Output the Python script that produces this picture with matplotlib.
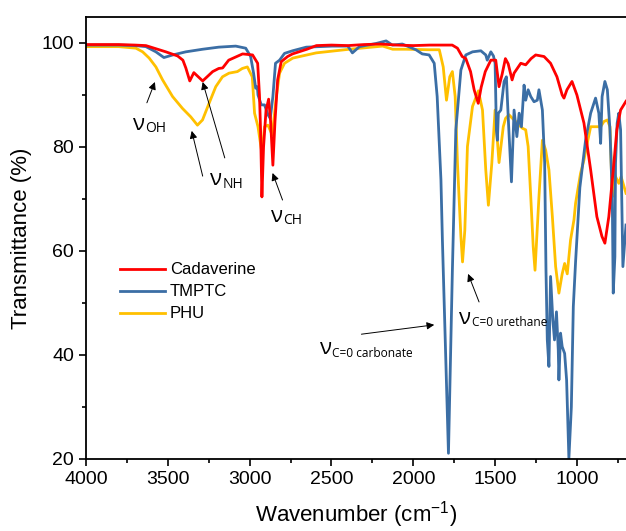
#-*- coding: utf-8 -*-

import numpy as np
import matplotlib
matplotlib.use('Agg')
import matplotlib.pyplot as plt
from matplotlib.ticker import MultipleLocator

# Cadaverine
wn_cad = [4000, 3800, 3700, 3634, 3512, 3440, 3408, 3390, 3366, 3341, 3287, 3226,
          3189, 3165, 3128, 3043, 2982, 2951, 2940, 2933, 2925, 2915, 2900, 2884,
          2872, 2858, 2845, 2829, 2807, 2768, 2738, 2650, 2592, 2500, 2400, 2300,
          2200, 2100, 2000, 1900, 1762, 1730, 1701, 1679, 1650, 1628, 1603, 1585,
          1560, 1526, 1496, 1476, 1457, 1437, 1420, 1396, 1384, 1343, 1313, 1280,
          1252, 1201, 1161, 1122, 1090, 1079, 1061, 1030, 1000, 957, 916, 878,
          847, 829, 805, 774, 756, 733, 700]
t_cad = [99.7, 99.7, 99.6, 99.5, 98.3, 97.5, 96.7, 95.2, 92.7, 94.3, 92.7, 94.5,
         95.1, 95.2, 96.7, 97.9, 97.7, 96.1, 90.0, 83.0, 70.4, 80.0, 87.0, 89.2,
         85.0, 76.5, 85.0, 92.9, 96.4, 97.4, 97.9, 98.8, 99.5, 99.6, 99.5, 99.7,
         99.8, 99.6, 99.5, 99.6, 99.6, 99.0, 97.4, 97.0, 94.5, 91.0, 88.4, 91.5,
         94.5, 96.7, 96.7, 91.6, 94.0, 97.0, 96.0, 92.9, 94.2, 96.1, 95.8, 97.0,
         97.7, 97.4, 96.1, 93.5, 90.0, 89.4, 91.0, 92.6, 90.0, 84.6, 75.6, 66.6,
         62.8, 61.5, 66.6, 76.9, 83.3, 87.1, 88.8]

# TMPTC
wn_tmp = [4000, 3800, 3700, 3634, 3573, 3524, 3470, 3390, 3287, 3189, 3085, 3024,
          2994, 2976, 2963, 2953, 2949, 2929, 2909, 2888, 2874, 2858, 2842, 2817,
          2787, 2738, 2654, 2494, 2400, 2372, 2329, 2228, 2166, 2128, 2067, 1984,
          1945, 1903, 1872, 1854, 1831, 1822, 1785, 1761, 1740, 1709, 1679, 1638,
          1587, 1557, 1548, 1526, 1510, 1500, 1492, 1486, 1480, 1465, 1445, 1431,
          1419, 1400, 1384, 1367, 1353, 1339, 1323, 1313, 1298, 1282, 1262, 1242,
          1232, 1211, 1197, 1189, 1181, 1171, 1161, 1147, 1137, 1125, 1114, 1110,
          1100, 1090, 1075, 1063, 1049, 1034, 1022, 1008, 982, 947, 916, 886,
          866, 855, 846, 829, 814, 798, 784, 778, 768, 764, 754, 744, 733, 719, 700]
t_tmp = [99.6, 99.6, 99.5, 99.3, 98.3, 97.2, 97.7, 98.3, 98.8, 99.2, 99.4, 99.0,
         97.4, 94.2, 91.3, 91.6, 90.0, 88.1, 88.1, 86.2, 85.5, 89.7, 96.1, 96.7,
         98.0, 98.5, 99.2, 99.4, 99.4, 98.1, 99.3, 99.9, 100.4, 99.6, 99.8, 98.7,
         97.9, 97.7, 96.1, 89.7, 73.7, 62.1, 21.1, 56.3, 83.3, 94.8, 97.7, 98.3,
         98.5, 97.7, 96.7, 98.3, 97.5, 96.1, 83.3, 81.3, 86.5, 87.1, 92.6, 93.5,
         85.2, 73.3, 87.1, 82.0, 86.5, 83.9, 91.9, 89.0, 91.0, 89.7, 88.7, 89.0,
         91.0, 87.1, 76.9, 56.3, 42.9, 37.8, 55.1, 46.7, 42.9, 48.3, 41.0, 35.2,
         44.2, 41.6, 40.3, 35.2, 20.1, 30.0, 49.3, 58.0, 72.2, 81.3, 86.5, 89.4,
         86.5, 80.7, 89.7, 92.6, 91.0, 83.3, 70.4, 51.9, 58.9, 76.9, 84.6, 86.5, 83.3, 57.0, 65.0]

# PHU
wn_phu = [4000, 3800, 3695, 3654, 3614, 3573, 3532, 3471, 3410, 3360, 3319, 3288,
          3248, 3207, 3166, 3126, 3075, 3045, 3014, 2984, 2970, 2949, 2925, 2909,
          2888, 2862, 2837, 2817, 2787, 2736, 2593, 2390, 2187, 2126, 2045, 1903,
          1841, 1817, 1797, 1777, 1761, 1744, 1730, 1709, 1699, 1685, 1669, 1638,
          1602, 1577, 1557, 1541, 1520, 1500, 1476, 1450, 1436, 1415, 1394, 1374,
          1353, 1333, 1313, 1298, 1282, 1267, 1256, 1232, 1211, 1191, 1171, 1150,
          1130, 1110, 1090, 1075, 1059, 1039, 1018, 1008, 978, 957, 937, 916,
          886, 855, 835, 814, 798, 784, 774, 764, 744, 730, 700]
t_phu = [99.3, 99.3, 99.0, 98.3, 97.1, 95.4, 92.9, 89.7, 87.4, 85.8, 84.2, 85.2,
         88.4, 91.6, 93.5, 94.2, 94.5, 95.1, 95.4, 93.5, 86.5, 83.9, 78.8, 83.9,
         84.2, 82.3, 89.7, 94.2, 96.1, 97.1, 98.1, 98.8, 99.4, 98.8, 98.8, 98.7,
         98.7, 95.4, 89.0, 93.5, 94.5, 89.7, 76.9, 62.8, 57.9, 64.0, 80.1, 87.8,
         90.8, 87.1, 75.6, 68.8, 76.9, 87.1, 77.0, 83.9, 85.5, 86.2, 85.5, 84.9,
         84.2, 83.6, 83.3, 80.1, 70.4, 60.8, 56.3, 70.4, 81.3, 79.4, 75.6, 66.6,
         57.0, 51.9, 55.6, 57.6, 55.6, 62.1, 66.0, 69.2, 74.9, 77.5, 80.7, 83.9,
         83.9, 83.9, 84.9, 85.2, 83.9, 70.4, 75.6, 74.3, 73.0, 74.3, 71.1]

labels = ['Cadaverine', 'TMPTC', 'PHU']
colors = ['#FF0000', '#3B6EA5', '#FFC000']

plt.rcParams['font.family'] = 'Liberation Sans'
plt.rcParams['mathtext.fontset'] = 'custom'
plt.rcParams['mathtext.rm'] = 'Liberation Sans'


def band_label(ax, x, y, sub, sub_size=10):
    t = ax.text(x, y, u'\u03bd', fontsize=16, family='Open Sans', va='center', ha='left')
    # subscript sits a little below the baseline of the nu
    ax.annotate(sub, xy=(1, 0), xycoords=t, xytext=(0.3, 1.6), textcoords='offset points',
                fontsize=sub_size, family='Open Sans', va='baseline', ha='left')


def arrow(ax, tail, head):
    ax.annotate('', xy=head, xytext=tail,
                arrowprops=dict(arrowstyle='-|>', color='black', lw=0.7, mutation_scale=11,
                                shrinkA=0, shrinkB=0))


fig = plt.figure(figsize=(6.26, 5.31), dpi=100)
ax = fig.add_axes([0.1374, 0.1356, 0.8626, 0.8324])

l_phu, = ax.plot(wn_phu, t_phu, color=colors[2], lw=2.0)
l_tmp, = ax.plot(wn_tmp, t_tmp, color=colors[1], lw=2.0)
l_cad, = ax.plot(wn_cad, t_cad, color=colors[0], lw=2.0)

ax.set_xlim(4000, 700)
ax.set_ylim(20, 105)
ax.xaxis.set_major_locator(MultipleLocator(500))
ax.xaxis.set_minor_locator(MultipleLocator(250))
ax.yaxis.set_major_locator(MultipleLocator(20))
ax.yaxis.set_minor_locator(MultipleLocator(10))
ax.tick_params(which='major', direction='out', length=5, width=1.2, labelsize=14)
ax.tick_params(which='minor', direction='out', length=3, width=1.2)
ax.spines['right'].set_visible(False)
for s in ['left', 'bottom', 'top']:
    ax.spines[s].set_linewidth(1.3)

ax.set_xlabel('Wavenumber (cm$^{-1}$)', fontsize=16, labelpad=8)
ax.set_ylabel('Transmittance (%)', fontsize=16, labelpad=7)

ax.legend([l_cad, l_tmp, l_phu], labels, loc='upper left', bbox_to_anchor=(0.05, 0.46),
          frameon=False, fontsize=12, handlelength=2.7, handletextpad=0.3,
          labelspacing=0.42, borderaxespad=0)

band_label(ax, 3713, 84.4, 'OH')
arrow(ax, (3628, 88.5), (3579, 92.5))
band_label(ax, 3244, 73.7, 'NH')
arrow(ax, (3287, 74.4), (3354, 83.1))
arrow(ax, (3152, 77.9), (3287, 92.5))
band_label(ax, 2872, 66.7, 'CH')
arrow(ax, (2799, 69.8), (2860, 75.0))
band_label(ax, 2573, 41.2, 'C=0 carbonate', sub_size=8.6)
arrow(ax, (2317, 44.0), (1872, 45.8))
band_label(ax, 1720, 47.1, 'C=0 urethane', sub_size=8.6)
arrow(ax, (1598, 50.2), (1665, 55.6))

fig.savefig('out.png', dpi=100)
